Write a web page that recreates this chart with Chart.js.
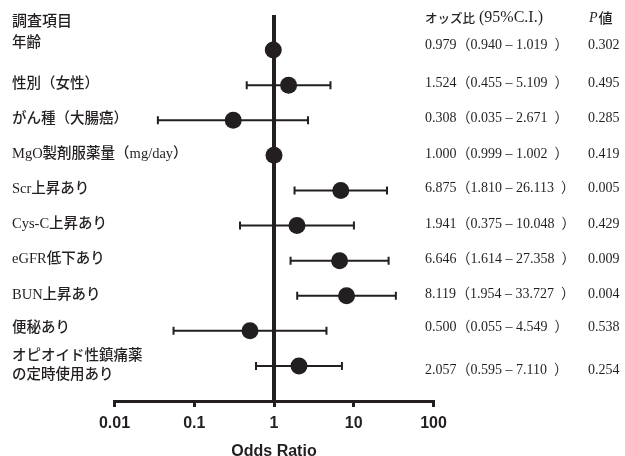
<!DOCTYPE html>
<html>
<head>
<meta charset="utf-8">
<script src="https://cdn.jsdelivr.net/npm/chart.js@4"></script>
<style>
  html, body { margin: 0; padding: 0; background: #fff; }
</style>
</head>
<body>
<canvas id="forest" width="625" height="456"></canvas>
<script>
// 調査項目と解析結果
const items = [
    '年齢',
    '性別（女性）',
    'がん種（大腸癌）',
    'MgO製剤服薬量（mg/day）',
    'Scr上昇あり',
    'Cys-C上昇あり',
    'eGFR低下あり',
    'BUN上昇あり',
    '便秘あり',
    'オピオイド性鎮痛薬\nの定時使用あり'
];
const oddsRatio = [0.979, 1.524, 0.308, 1.000, 6.875, 1.941, 6.646, 8.119, 0.500, 2.057];
const ciLower   = [0.940, 0.455, 0.035, 0.999, 1.810, 0.375, 1.614, 1.954, 0.055, 0.595];
const ciUpper   = [1.019, 5.109, 2.671, 1.002, 26.113, 10.048, 27.358, 33.727, 4.549, 7.110];
const pValues   = ['0.302', '0.495', '0.285', '0.419', '0.005', '0.429', '0.009', '0.004', '0.538', '0.254'];
const xTicks    = [0.01, 0.1, 1, 10, 100];

const ink = '#231f20';
const mixFont = "'Liberation Serif', 'Noto Sans CJK JP'";

// 行ごとの文字の上下ずれ（元の図に合わせる）
const labelShift = [-7, -1, -1, -1, -1, -1, -1, -1, -3, 0];
const tableShift = [-5, -1.5, -2, -1.5, -2, -1, -1, -1, -3, 4];

function ciText(i) {
    return `${oddsRatio[i].toFixed(3)}（${ciLower[i].toFixed(3)} – ${ciUpper[i].toFixed(3)}\u2002）`;
}

const forestPlugin = {
    id: 'forest',
    beforeDatasetsDraw(chart) {
        const { ctx, chartArea, scales: { x, y } } = chart;
        ctx.save();
        ctx.strokeStyle = ink;

        // OR = 1 の基準線
        const x1 = x.getPixelForValue(1);
        ctx.lineWidth = 4;
        ctx.beginPath();
        ctx.moveTo(x1, chartArea.top);
        ctx.lineTo(x1, chartArea.bottom);
        ctx.stroke();

        // 95%信頼区間
        ctx.lineWidth = 2;
        items.forEach((_, i) => {
            const yy = y.getPixelForValue(i);
            const lo = x.getPixelForValue(ciLower[i]);
            const hi = x.getPixelForValue(ciUpper[i]);
            ctx.beginPath();
            ctx.moveTo(lo, yy); ctx.lineTo(hi, yy);
            ctx.moveTo(lo, yy - 4); ctx.lineTo(lo, yy + 4);
            ctx.moveTo(hi, yy - 4); ctx.lineTo(hi, yy + 4);
            ctx.stroke();
        });
        ctx.restore();
    },
    afterDraw(chart) {
        const { ctx, scales: { y } } = chart;
        ctx.save();
        ctx.fillStyle = ink;
        ctx.textAlign = 'left';
        ctx.textBaseline = 'middle';

        const headY = y.getPixelForValue(-1);
        ctx.font = "500 15px 'Noto Sans CJK JP'";
        ctx.fillText('調査項目', 12, headY + 5);

        ctx.font = "500 12.5px 'Noto Sans CJK JP'";
        ctx.fillText('オッズ比', 425, headY + 3);
        const hw = ctx.measureText('オッズ比').width;
        ctx.font = "16px 'Liberation Serif'";
        ctx.fillText(' (95%C.I.)', 425 + hw, headY + 3);

        ctx.font = "italic 14px 'Liberation Serif'";
        ctx.fillText('P', 589, headY + 3);
        const pw = ctx.measureText('P').width;
        ctx.font = "500 14px 'Noto Sans CJK JP'";
        ctx.fillText('値', 589 + pw + 1, headY + 3);

        items.forEach((label, i) => {
            const yy = y.getPixelForValue(i);
            ctx.font = `500 14.5px ${mixFont}`;
            const lines = label.split('\n');
            if (lines.length > 1) {
                ctx.fillText(lines[0], 12, yy - 10);
                ctx.fillText(lines[1], 12, yy + 9);
            } else {
                ctx.fillText(label, 12, yy + labelShift[i]);
            }
            ctx.font = `14px ${mixFont}`;
            ctx.fillText(ciText(i), 425, yy + tableShift[i]);
            ctx.fillText(pValues[i], 588, yy + tableShift[i]);
        });
        ctx.restore();
    }
};

const ctx = document.getElementById('forest').getContext('2d');
window.forestChart = new Chart(ctx, {
    type: 'scatter',
    data: {
        datasets: [{
            data: items.map((_, i) => ({ x: oddsRatio[i], y: i })),
            backgroundColor: ink,
            borderWidth: 0,
            pointRadius: 8.5,
            pointHoverRadius: 8.5
        }]
    },
    options: {
        responsive: false,
        animation: false,
        layout: {
            padding: { left: 114.5, right: 191.5, top: 15, bottom: 0 }
        },
        plugins: {
            legend: { display: false },
            tooltip: { enabled: false }
        },
        scales: {
            x: {
                type: 'logarithmic',
                min: 0.01,
                max: 100,
                afterBuildTicks: scale => {
                    scale.ticks = xTicks.map(v => ({ value: v }));
                },
                afterFit: scale => {
                    scale.height = 55;
                },
                border: { display: true, color: ink, width: 3 },
                grid: {
                    display: true,
                    drawOnChartArea: false,
                    drawTicks: true,
                    tickLength: 6,
                    color: ink,
                    lineWidth: 3
                },
                ticks: {
                    autoSkip: false,
                    maxRotation: 0,
                    padding: 7,
                    color: ink,
                    font: { family: "'Liberation Sans'", size: 16, weight: 'bold' },
                    callback: value => String(value)
                },
                title: {
                    display: true,
                    text: 'Odds Ratio',
                    color: ink,
                    padding: 0,
                    font: { family: "'Liberation Sans'", size: 16, weight: 'bold', lineHeight: 0.6 }
                }
            },
            y: {
                type: 'linear',
                reverse: true,
                min: -1,
                max: 10,
                display: false
            }
        }
    },
    plugins: [forestPlugin]
});
</script>
</body>
</html>
